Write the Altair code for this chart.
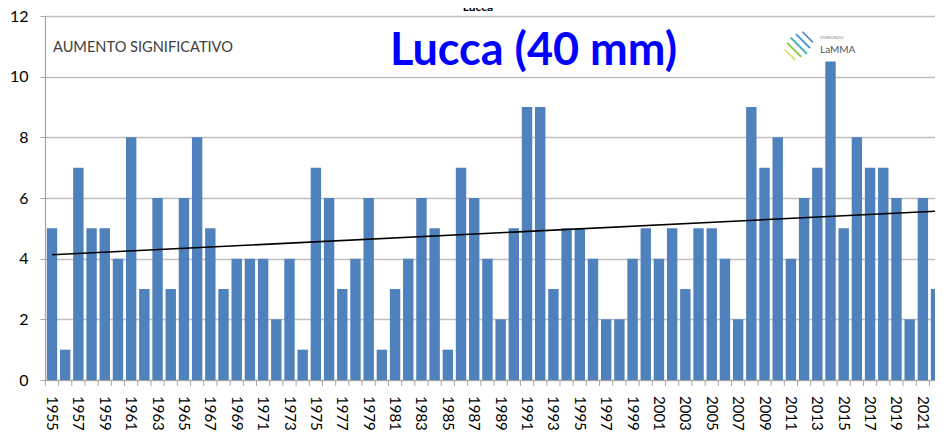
import altair as alt
import pandas as pd

# ---- data ----
years = list(range(1955, 2023))
values = [5, 1, 7, 5, 5, 4, 8, 3, 6, 3,
          6, 8, 5, 3, 4, 4, 4, 2, 4, 1,
          7, 6, 3, 4, 6, 1, 3, 4, 6, 5,
          1, 7, 6, 4, 2, 5, 9, 9, 3, 5,
          5, 4, 2, 2, 4, 5, 4, 5, 3, 5,
          5, 4, 2, 9, 7, 8, 4, 6, 7, 10.5,
          5, 8, 7, 7, 6, 2, 6, 3]
y_ticks = [0, 2, 4, 6, 8, 10, 12]
label_years = [y for y in years if y % 2 == 1]
chart_title = "Lucca"
big_label = "Lucca (40 mm)"
note_label = "AUMENTO SIGNIFICATIVO"
logo_small = "CONSORZIO"
logo_label = "LaMMA"

df = pd.DataFrame({"year": years, "value": values})
df_ticks = pd.DataFrame({"b": [y - 0.5 for y in years]})
df_labels = pd.DataFrame({"year": label_years, "txt": [str(y) for y in label_years]})

W, H = 890, 364
x_dom = [1954.47, 2021.92]
FONT = "Lato"
GRAY = "#A6A6A6"

x_scale = alt.Scale(domain=x_dom, nice=False, zero=False, padding=0)
y_scale = alt.Scale(domain=[0, 12], nice=False)

bars = alt.Chart(df).mark_bar(color="#4F81BD", size=10.4, clip=True).encode(
    x=alt.X("year:Q", scale=x_scale,
            axis=alt.Axis(title=None, grid=False, ticks=False, labels=False,
                          domainColor=GRAY, domainWidth=1.2)),
    y=alt.Y("value:Q", scale=y_scale,
            axis=alt.Axis(values=y_ticks, title=None, grid=True,
                          gridColor="#BFBFBF", gridWidth=1.5,
                          labelFontSize=16, labelFont=FONT, labelColor="#000000",
                          labelPadding=12, tickSize=5, tickColor=GRAY,
                          domainColor=GRAY, domainWidth=1.2)),
)

ticks = alt.Chart(df_ticks).mark_rule(color=GRAY, strokeWidth=1).encode(
    x=alt.X("b:Q", scale=x_scale),
    y=alt.value(H),
    y2=alt.value(H + 6),
)

xlabels = alt.Chart(df_labels).mark_text(
    angle=90, align="left", baseline="middle", fontSize=15, font=FONT,
    color="#000000").encode(
    x=alt.X("year:Q", scale=x_scale),
    y=alt.value(H + 16),
    text="txt:N",
)

trend = alt.Chart(df).transform_regression(
    "year", "value", extent=[1955, 2023]
).mark_line(color="#000000", strokeWidth=1.6, clip=True).encode(
    x=alt.X("year:Q", scale=x_scale),
    y=alt.Y("value:Q", scale=y_scale),
)

def label(text, x, y, **kw):
    return alt.Chart(pd.DataFrame({"t": [text]})).mark_text(**kw).encode(
        text="t:N", x=alt.value(x), y=alt.value(y))

note = label(note_label, 8, 31.5, align="left", baseline="middle",
             fontSize=14.6, font=FONT, color="#404040")
big = label(big_label, 488.5, 49, align="center", baseline="alphabetic",
            fontSize=45, font=FONT, fontWeight="bold", color="#0000FF")

# logo: a disc of diagonal stripes drawn with rotated bar glyphs
stripe_colors = ["#D4DA3A", "#8CC641", "#3FB0B8", "#3C93D3", "#2F6FB8"]
stripe_sizes = [15, 20, 23, 20, 15]
stripes = [
    label("|", 753 + k * 4.4, 29 - k * 4.4, align="center", baseline="middle",
          fontSize=s, font="DejaVu Sans", color=c, angle=315)
    for k, c, s in zip([-2, -1, 0, 1, 2], stripe_colors, stripe_sizes)
]
logo1 = label(logo_small, 775, 22, align="left", baseline="middle",
              fontSize=4, font=FONT, color="#808080")
logo2 = label(logo_label, 775, 37, align="left", baseline="alphabetic",
              fontSize=10, font=FONT, color="#4A5560")
title = label(chart_title, 433, -5, align="center", baseline="alphabetic",
              fontSize=12, font=FONT, fontWeight="bold", color="#000000")

chart = alt.layer(bars, ticks, xlabels, trend, note, big,
                  *stripes, logo1, logo2, title).properties(
    width=W, height=H,
    autosize=alt.AutoSizeParams(type="none"),
    padding={"left": 37, "top": 8, "right": 0, "bottom": 50},
).configure_view(stroke=None)

chart.save("out.html", embed_options={"renderer": "svg", "actions": False})
